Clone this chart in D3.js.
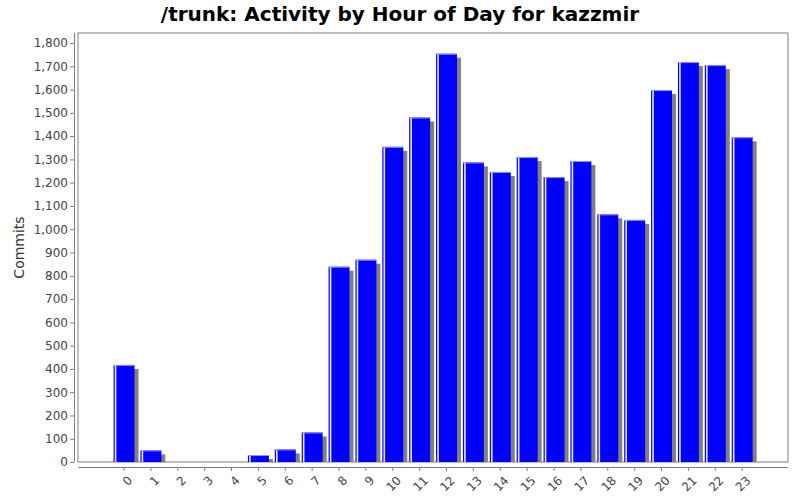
<!DOCTYPE html>
<html>
<head>
<meta charset="utf-8">
<script src="https://cdn.jsdelivr.net/npm/d3@7"></script>
<style>
  body { margin: 0; background: #fff; }
  svg { display: block; }
</style>
</head>
<body>
<div id="chart"></div>
<script>
const hours = d3.range(0, 24).map(String);
const commits = [417, 50, 0, 0, 0, 30, 54, 127, 839, 869, 1354, 1480, 1754, 1287,
    1246, 1310, 1224, 1293, 1064, 1040, 1598, 1718, 1705, 1395];
const yTicks = d3.range(0, 1801, 100);

const width = 800, height = 500;
const plot = { left: 78, right: 788, top: 33, bottom: 462 };

const svg = d3.select("#chart").append("svg")
    .attr("width", width)
    .attr("height", height)
    .attr("font-family", "'DejaVu Sans', sans-serif");

svg.append("rect").attr("width", width).attr("height", height).attr("fill", "#fff");

// title
svg.append("text")
    .attr("x", width / 2)
    .attr("y", 21)
    .attr("text-anchor", "middle")
    .attr("font-size", 20)
    .attr("font-weight", "bold")
    .text("/trunk: Activity by Hour of Day for kazzmir");

const xScale = d3.scaleBand()
    .domain(hours)
    .range([plot.left + 32.6, plot.right - 32.4])
    .padding(0);

const yScale = d3.scaleLinear()
    .domain([0, 1843])
    .range([plot.bottom, plot.top]);

// plot box
svg.append("rect")
    .attr("x", plot.left)
    .attr("y", plot.top)
    .attr("width", plot.right - plot.left)
    .attr("height", plot.bottom - plot.top)
    .attr("fill", "#fff")
    .attr("stroke", "#808080")
    .attr("stroke-width", 1);

const barW = xScale.bandwidth() * 0.78;
const bx = d => xScale(d.h) + (xScale.bandwidth() - barW) / 2;
const data = hours.map((h, i) => ({ h, v: commits[i] }));

const bars = svg.append("g");

// shadows
bars.selectAll("rect.shadow")
    .data(data.filter(d => d.v > 0))
    .join("rect")
    .attr("class", "shadow")
    .attr("x", d => bx(d) + 4)
    .attr("y", d => Math.min(yScale(d.v) + 4, plot.bottom))
    .attr("width", barW)
    .attr("height", d => Math.max(0, plot.bottom - yScale(d.v) - 4))
    .attr("fill", "#808080");

bars.selectAll("rect.bar")
    .data(data.filter(d => d.v > 0))
    .join("rect")
    .attr("class", "bar")
    .attr("x", d => bx(d))
    .attr("y", d => yScale(d.v))
    .attr("width", barW)
    .attr("height", d => plot.bottom - yScale(d.v))
    .attr("fill", "#0000ff");

// highlight stripes on the bars
bars.selectAll("rect.stripe")
    .data(data.filter(d => d.v > 0))
    .join("rect")
    .attr("class", "stripe")
    .attr("x", d => bx(d) + 1.2)
    .attr("y", d => yScale(d.v))
    .attr("width", 1.6)
    .attr("height", d => plot.bottom - yScale(d.v))
    .attr("fill", "#e8e8ff");

bars.selectAll("line.top")
    .data(data.filter(d => d.v > 0))
    .join("line")
    .attr("class", "top")
    .attr("x1", d => bx(d))
    .attr("x2", d => bx(d) + barW)
    .attr("y1", d => yScale(d.v) + 0.5)
    .attr("y2", d => yScale(d.v) + 0.5)
    .attr("stroke", "#9090ff")
    .attr("stroke-width", 1);

// y axis
const yAxis = svg.append("g")
    .attr("transform", "translate(74,0)")
    .call(d3.axisLeft(yScale)
        .tickValues(yTicks)
        .tickFormat(d3.format(","))
        .tickSize(4)
        .tickSizeOuter(0));
yAxis.select(".domain").attr("stroke", "#808080").attr("d", `M0.5,${plot.top}V${plot.bottom}`);
yAxis.selectAll(".tick line").attr("stroke", "#808080");
yAxis.selectAll(".tick text")
    .attr("font-size", 12)
    .attr("fill", "#444")
    .attr("font-family", "'DejaVu Sans', sans-serif")
    .attr("x", -6);

// x axis
const xAxis = svg.append("g")
    .attr("transform", "translate(0,467)")
    .call(d3.axisBottom(xScale).tickSize(4).tickSizeOuter(0));
xAxis.select(".domain").attr("stroke", "#808080").attr("d", `M${plot.left},0.5H${plot.right}`);
xAxis.selectAll(".tick line").attr("stroke", "#808080");
xAxis.selectAll(".tick text")
    .attr("font-size", 12)
    .attr("fill", "#444")
    .attr("font-family", "'DejaVu Sans', sans-serif")
    .attr("text-anchor", "end")
    .attr("dy", null)
    .attr("y", 0)
    .attr("transform", "translate(3,8) rotate(-45)")
    .attr("dominant-baseline", "hanging");

// y title
svg.append("text")
    .attr("transform", `translate(24,${(plot.top + plot.bottom) / 2}) rotate(-90)`)
    .attr("text-anchor", "middle")
    .attr("font-size", 14)
    .attr("fill", "#333")
    .text("Commits");
</script>
</body>
</html>
